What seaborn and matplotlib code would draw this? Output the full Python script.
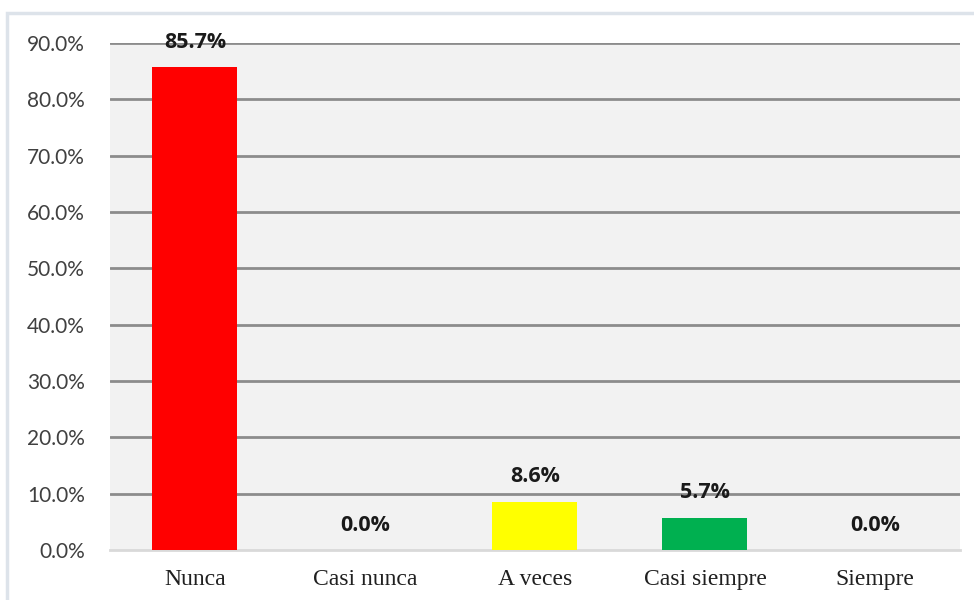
import matplotlib.pyplot as plt
import matplotlib.patches as mpatches
import pandas as pd
import seaborn as sns

categories = ["Nunca", "Casi nunca", "A veces", "Casi siempre", "Siempre"]
values = [0.857, 0.0, 0.086, 0.057, 0.0]
colors = ["#ff0000", "#ff0000", "#ffff00", "#00b050", "#00b050"]
yticks = [0.0, 0.1, 0.2, 0.3, 0.4, 0.5, 0.6, 0.7, 0.8, 0.9]

df = pd.DataFrame({"categoria": categories, "valor": values})

sns.set_style("white")
fig = plt.figure(figsize=(9.74, 6.0), dpi=100)
ax = fig.add_axes([0.1129, 0.0833, 0.8727, 0.845])

# outer chart border (Excel style)
fig.patches.append(mpatches.Rectangle((0.007, -0.01), 1.0, 0.988, transform=fig.transFigure,
                                      fill=False, edgecolor="#dde3ea", linewidth=2.5))

sns.barplot(data=df, x="categoria", y="valor", hue="categoria", palette=colors,
            width=0.5, legend=False, ax=ax, saturation=1, linewidth=0, zorder=3)

ax.set_facecolor("#f2f2f2")
ax.set_ylim(0, 0.9)
ax.set_yticks(yticks)
ax.set_yticklabels([f"{t * 100:.1f}%" for t in yticks], fontsize=15,
                   family=["Lato", "DejaVu Sans"], color="#404040")
ax.set_xticks(range(len(categories)))
ax.set_xticklabels(categories, fontsize=17, family=["Liberation Serif"], color="#202020")
ax.tick_params(axis="both", length=0)
ax.tick_params(axis="y", pad=18)
ax.tick_params(axis="x", pad=14)
ax.set_xlabel("")
ax.set_ylabel("")
for t in yticks[1:]:
    ax.axhline(t, color="#8c8c8c", linewidth=2, zorder=1)
for s in ["top", "right", "left"]:
    ax.spines[s].set_visible(False)
ax.spines["bottom"].set_color("#d9d9d9")
ax.spines["bottom"].set_linewidth(2)
ax.set_xlim(-0.5, len(categories) - 0.5)

for i, v in enumerate(values):
    ax.annotate(f"{v * 100:.1f}%", (i, v), xytext=(0, 18), textcoords="offset points",
                ha="center", va="center", fontsize=15.5, fontweight="bold",
                family=["Open Sans", "DejaVu Sans"], color="#1a1a1a", zorder=5)

fig.savefig("out.png", dpi=100)
